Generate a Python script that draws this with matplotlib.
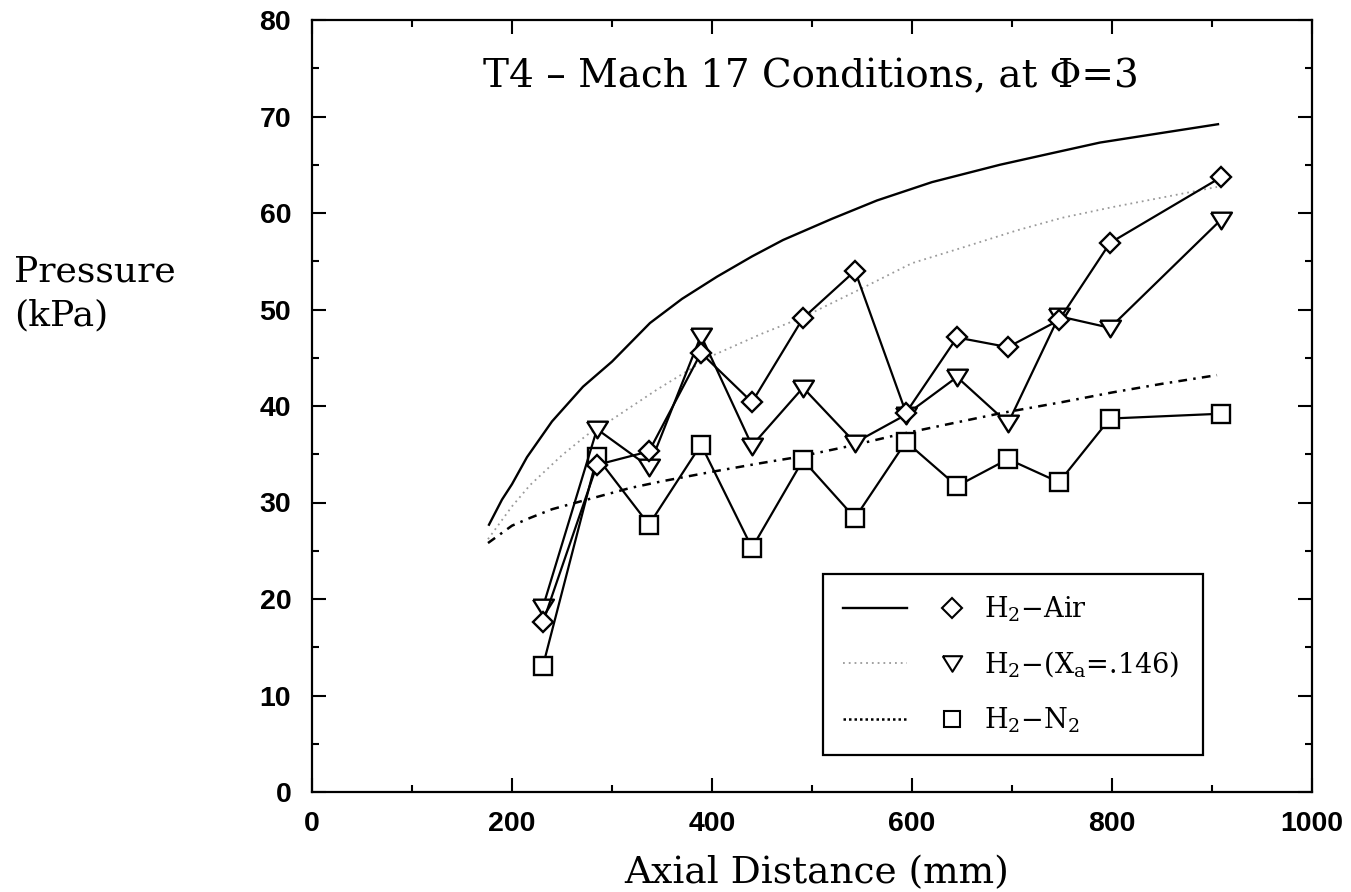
import matplotlib
matplotlib.use("Agg")
import matplotlib.pyplot as plt
from matplotlib.lines import Line2D
from matplotlib.legend_handler import HandlerTuple
from matplotlib.ticker import MultipleLocator

# ------------------------------------------------------------
# data
# ------------------------------------------------------------
x_exp = [231, 285, 337, 389, 440, 491, 543, 594, 645, 696, 747, 798, 909]
p_air = [17.6, 33.9, 35.3, 45.5, 40.4, 49.1, 54.0, 39.3, 47.1, 46.1, 48.9, 56.9, 63.7]
p_xa = [19.2, 37.6, 33.7, 47.3, 35.9, 41.9, 36.2, 39.1, 43.0, 38.2, 49.3, 48.1, 59.3]
p_n2 = [13.1, 34.7, 27.7, 36.0, 25.3, 34.4, 28.4, 36.3, 31.7, 34.5, 32.1, 38.7, 39.2]

# theory curves
x_th_air = [177, 190, 200, 215, 240, 271, 300, 338, 370, 405, 440, 471, 520, 565,
            620, 688, 740, 788, 850, 906]
p_th_air = [27.7, 30.3, 31.9, 34.7, 38.4, 42.0, 44.6, 48.6, 51.1, 53.4, 55.5, 57.2,
            59.4, 61.3, 63.2, 65.0, 66.2, 67.3, 68.3, 69.2]

x_th_xa = [176, 200, 218, 250, 275, 300, 345, 400, 450, 491, 550, 600, 650, 705,
           750, 800, 850, 905]
p_th_xa = [26.2, 29.6, 31.8, 34.9, 37.0, 38.6, 41.7, 45.2, 47.5, 49.2, 52.2, 54.8,
           56.4, 58.2, 59.5, 60.6, 61.6, 62.7]

x_th_n2 = [176, 200, 218, 240, 268, 318, 350, 401, 450, 485, 540, 585, 640, 691,
           750, 800, 850, 905]
p_th_n2 = [25.8, 27.6, 28.4, 29.3, 30.1, 31.5, 32.2, 33.2, 34.1, 34.7, 35.9, 37.0,
           38.2, 39.3, 40.4, 41.4, 42.3, 43.2]

labels = [r'H$_2$$-$Air', r'H$_2$$-$(X$_\mathrm{a}$=.146)', r'H$_2$$-$N$_2$']

plt.rcParams['mathtext.fontset'] = 'dejavuserif'

fig = plt.figure(figsize=(13.51, 8.92), dpi=100)
ax = fig.add_axes([312 / 1351, 100 / 892, 1000 / 1351, 772 / 892])

# tri marker wider than tall, like the original
tri = [(-1, 0.75), (1, 0.75), (0, -0.85), (-1, 0.75)]

mk = dict(mfc='white', mec='black', mew=1.7, color='black', lw=1.6)

# theory lines
ax.plot(x_th_air, p_th_air, '-', color='black', lw=1.7)
ax.plot(x_th_xa, p_th_xa, color='#9a9a9a', lw=1.3, ls=(0, (1, 2.2)))
ax.plot(x_th_n2, p_th_n2, color='black', lw=1.8, ls=(0, (3.5, 2.5, 1, 2.5)))

# experiments
ax.plot(x_exp, p_n2, marker='s', ms=13, **mk)
ax.plot(x_exp, p_xa, marker=tri, ms=15, **mk)
ax.plot(x_exp, p_air, marker='D', ms=10.5, **mk)

ax.set_xlim(0, 1000)
ax.set_ylim(0, 80)
ax.xaxis.set_major_locator(MultipleLocator(200))
ax.xaxis.set_minor_locator(MultipleLocator(100))
ax.yaxis.set_major_locator(MultipleLocator(10))
ax.yaxis.set_minor_locator(MultipleLocator(5))
ax.tick_params(which='both', direction='in', top=True, right=True, width=1.5)
ax.tick_params(which='major', length=10)
ax.tick_params(which='minor', length=5)
ax.tick_params(axis='y', which='major', pad=15)
ax.tick_params(axis='x', which='major', pad=14)
for t in ax.get_xticklabels() + ax.get_yticklabels():
    t.set_fontfamily('Liberation Sans')
    t.set_fontweight('bold')
    t.set_fontsize(20.5)
for s in ax.spines.values():
    s.set_linewidth(1.6)

ax.text(0.499, 0.926, 'T4 \u2013 Mach 17 Conditions, at \u03a6=3', transform=ax.transAxes,
        ha='center', va='center', fontsize=28, family='DejaVu Serif')

ax.set_xlabel('Axial Distance (mm)', fontsize=27, family='DejaVu Serif', va='center')
ax.xaxis.set_label_coords(0.505, -0.105)
ax.set_ylabel('Pressure\n(kPa)', fontsize=26, family='DejaVu Serif', rotation=0,
              ha='left', va='center', multialignment='left', linespacing=1.35)
ax.yaxis.set_label_coords(-0.298, 0.646)

# legend: line sample, then marker sample
h_air = (Line2D([], [], color='black', lw=1.7),
         Line2D([], [], ls='none', marker='D', ms=10, mfc='white', mec='black', mew=1.5))
h_xa = (Line2D([], [], color='#9a9a9a', lw=1.3, ls=(0, (1, 2.2))),
        Line2D([], [], ls='none', marker=tri, ms=14, mfc='white', mec='black', mew=1.5))
h_n2 = (Line2D([], [], color='black', lw=1.8, ls=(0, (1, 1.2))),
        Line2D([], [], ls='none', marker='s', ms=12, mfc='white', mec='black', mew=1.5))
leg = ax.legend([h_air, h_xa, h_n2], labels,
                handler_map={tuple: HandlerTuple(ndivide=None, pad=0.5)},
                loc='upper left', bbox_to_anchor=(0.511, 0.0505, 0.38, 0.232),
                bbox_transform=ax.transAxes, mode='expand', handlelength=5.2,
                handletextpad=0.0, labelspacing=0.95, fancybox=False, framealpha=1,
                edgecolor='black', prop={'family': 'DejaVu Serif', 'size': 19.5},
                borderpad=0.75, borderaxespad=0)
leg.get_frame().set_linewidth(1.6)

fig.savefig('out.png', dpi=100)
